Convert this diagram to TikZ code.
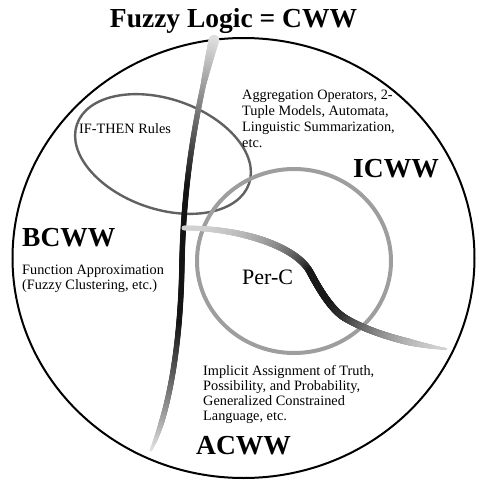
\documentclass[tikz,border=0pt]{standalone}
\usepackage{fontspec}
\setmainfont{Liberation Serif}
\tikzset{
  outer/.style={line width=2pt, black},
  ifthen/.style={line width=2.4pt, black!62},
  perc/.style={line width=4pt, black!38},
  small/.style={font=\fontsize{14.3}{15.6}\selectfont, inner sep=0pt, align=left},
  big/.style={font=\bfseries\fontsize{27.5}{30}\selectfont, inner sep=0pt}
}
% ribbon segment: #1 start #2 c1 #3 c2 #4 end, #5 s0, #6 s1, #7 darkness expr, #8 radius expr (in \s)
\newcommand\rbseg[8]{%
  \foreach \i in {0,...,240}{%
    \pgfmathsetmacro\s{#5+(#6-#5)*\i/240}%
    \pgfmathtruncatemacro\rbD{#7}%
    \pgfmathsetmacro\rbR{#8}%
    \path #1 .. controls #2 and #3 .. #4 coordinate[pos=\i/240] (rbq);
    \fill[black!\rbD!white] (rbq) circle[radius=\rbR pt];
  }}
\def\darkV{12+80*min(1,\s/0.34,(1-\s)/0.36)}
\def\radV{min(max(2.8,5.5-25*\s),1.6+12*(1-\s))}
\def\darkS{18+72*min(1,(\s/0.4)*(\s/0.4),((1-\s)/0.5)*sqrt((1-\s)/0.5))}
\def\radS{min(2.4+6*\s,3.5,1.2+15*(1-\s))}
\begin{document}
\begin{tikzpicture}[x=1pt,y=-1pt]
\useasboundingbox (0,0) rectangle (479,480);
% outer circle
\draw[outer] (243.5,258) ellipse [x radius=231, y radius=220];
% IF-THEN ellipse
\draw[ifthen, rotate around={-19:(163,154)}] (163,154) ellipse [x radius=91, y radius=55];
% Per-C circle
\draw[perc] (294,261) ellipse [x radius=97, y radius=92];
% vertical ribbon
\rbseg{(214,40)}{(196,110)}{(184,180)}{(182,260)}{0}{0.5}{\darkV}{\radV}
\rbseg{(182,260)}{(181,340)}{(170,410)}{(151,450)}{0.5}{1}{\darkV}{\radV}
% S ribbon
\rbseg{(184,228)}{(240,228)}{(296,246)}{(310,272)}{0}{0.4}{\darkS}{\radS}
\rbseg{(310,272)}{(317,285)}{(330,309)}{(345,318)}{0.4}{0.55}{\darkS}{\radS}
\rbseg{(345,318)}{(370,333)}{(410,344)}{(446,349)}{0.55}{1}{\darkS}{\radS}
% texts
\node[big, anchor=base] (title) at (233.5,27) {Fuzzy Logic = CWW};
\node[small, anchor=base west] (ifthen) at (79,133) {IF-THEN Rules};
\node[small, font=\fontsize{14.3}{15.7}\selectfont, anchor=base west] (agg) at (242,147) {Aggregation Operators, 2-\\Tuple Models, Automata,\\Linguistic Summarization,\\etc.};
\node[big, anchor=base west] (icww) at (353,177) {ICWW};
\node[big, anchor=base west] (bcww) at (22,246) {BCWW};
\node[small, font=\fontsize{14.3}{14.5}\selectfont, anchor=base west] (func) at (22,289) {Function Approximation\\(Fuzzy Clustering, etc.)};
\node[font=\fontsize{22}{24}\selectfont, inner sep=0pt, anchor=base west] (perc) at (242,284) {Per-C};
\node[small, font=\fontsize{14.3}{15}\selectfont, anchor=base west] (impl) at (203,420) {Implicit Assignment of Truth,\\Possibility, and Probability,\\Generalized Constrained\\Language, etc.};
\node[big, anchor=base west] (acww) at (196,454) {ACWW};
\end{tikzpicture}
\end{document}
